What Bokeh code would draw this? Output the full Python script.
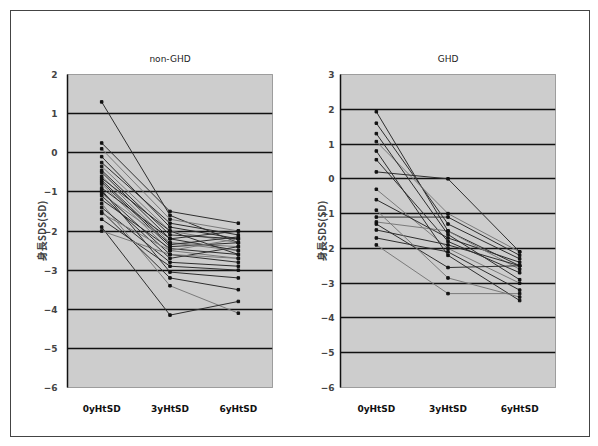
from bokeh.plotting import figure
from bokeh.layouts import row
from bokeh.models import Range1d, FixedTicker
from bokeh.embed import file_html
from bokeh.resources import INLINE

categories = ["0yHtSD", "3yHtSD", "6yHtSD"]

non_ghd_0y = [1.3, 0.25, 0.1, -0.1, -0.25, -0.35, -0.45, -0.5, -0.6, -0.65, -0.75, -0.8, -0.9,
              -1.0, -1.05, -1.1, -1.2, -1.3, -1.4, -1.5, -1.55, -1.7, -1.9, -2.0, -0.7, -0.95]
non_ghd_3y = [-1.6, -1.5, -1.7, -1.9, -1.8, -2.0, -2.1, -2.2, -2.3, -2.0, -2.4, -2.5, -2.2,
              -2.6, -2.3, -2.7, -2.45, -3.4, -2.8, -3.2, -2.5, -2.9, -4.15, -2.6, -2.35, -3.05]
non_ghd_6y = [-2.3, -1.8, -2.0, -2.2, -2.1, -2.3, -2.2, -2.5, -2.4, -2.6, -2.3, -2.7, -2.0,
              -2.8, -2.5, -2.4, -2.6, -4.1, -2.9, -3.5, -2.2, -3.0, -3.8, -2.7, -2.15, -3.2]

ghd_0y = [1.93, 1.6, 1.07, 0.55, 0.2, -0.3, -0.6, -1.1, -1.24, -1.47, -1.7, -1.9, 0.8, -1.3, -0.9, 1.3]
ghd_3y = [-1.5, -1.3, -1.0, -1.8, 0.0, -2.0, -1.7, -1.1, -1.5, -1.9, -2.1, -3.3, -2.2, -2.55, -2.85, -1.6]
ghd_6y = [-2.5, -2.3, -2.1, -2.7, -2.1, -3.0, -2.4, -2.2, -2.6, -2.5, -3.2, -3.3, -3.5, -2.5, -3.4, -2.9]

titles = ["non-GHD", "GHD"]
y_label = "身長SDS(SD)"
left_ticks = [2, 1, 0, -1, -2, -3, -4, -5, -6]
right_ticks = [3, 2, 1, 0, -1, -2, -3, -4, -5, -6]


def panel(title, s0, s3, s6, ymax, ticks, width, bl, br, lab_standoff, axlab_standoff):
    p = figure(width=width, height=425, x_range=categories, y_range=Range1d(-6, ymax),
               output_backend="svg", toolbar_location=None,
               min_border_left=bl, min_border_right=br, min_border_top=63, min_border_bottom=49)
    p.background_fill_color = "#cdcdcd"
    p.border_fill_color = "white"
    p.outline_line_color = "#555555"
    p.outline_line_dash = "1 1"
    p.outline_line_width = 1
    p.title.text = title
    p.title.align = "center"
    p.title.text_font = "DejaVu Sans"
    p.title.text_font_size = "9px"
    p.title.text_font_style = "normal"
    p.title.text_color = "#222222"
    p.title.standoff = 21

    ys = [[a, b, c] for a, b, c in zip(s0, s3, s6)]
    xs = [categories] * len(ys)
    colors = ["#2e2e2e" if i % 3 != 2 else "#7a7a7a" for i in range(len(ys))]
    p.multi_line(xs, ys, line_color=colors, line_width=1.0)
    px = [c for _ in ys for c in categories]
    py = [v for trip in ys for v in trip]
    p.scatter(px, py, marker="square", size=2.5, color="#111111")

    p.yaxis.ticker = FixedTicker(ticks=ticks)
    p.ygrid.ticker = FixedTicker(ticks=[t for t in ticks if -6 < t < ymax])
    p.ygrid.grid_line_color = "#111111"
    p.ygrid.grid_line_width = 1.5
    p.xgrid.grid_line_color = None
    p.yaxis.axis_label = y_label
    p.yaxis.axis_label_text_font = "Noto Sans CJK JP"
    p.yaxis.axis_label_text_font_size = "10px"
    p.yaxis.axis_label_text_font_style = "bold"
    p.yaxis.axis_label_standoff = axlab_standoff
    p.yaxis.major_label_standoff = lab_standoff
    p.yaxis.major_label_text_font = "DejaVu Sans"
    p.yaxis.major_label_text_font_size = "9px"
    p.yaxis.major_label_text_font_style = "bold"
    p.yaxis.major_tick_out = 0
    p.yaxis.major_tick_in = 0
    p.yaxis.minor_tick_line_color = None
    p.yaxis.axis_line_color = "#111111"
    p.yaxis.axis_line_width = 1.5

    p.xaxis.axis_line_color = None
    p.xaxis.major_tick_line_color = None
    p.xaxis.major_label_standoff = 10
    p.xaxis.major_label_text_font = "DejaVu Sans"
    p.xaxis.major_label_text_font_size = "9px"
    p.xaxis.major_label_text_font_style = "bold"
    p.xaxis.major_label_text_color = "#111111"
    return p


p1 = panel(titles[0], non_ghd_0y, non_ghd_3y, non_ghd_6y, 2, left_ticks, 289, 56, 28, 10, -8)
p2 = panel(titles[1], ghd_0y, ghd_3y, ghd_6y, 3, right_ticks, 289, 40, 34, 6, -11)

layout = row(p1, p2, styles={"border": "1px solid #444444", "margin-left": "10px", "margin-top": "10px"})
open("out.html", "w").write(file_html(layout, INLINE))
